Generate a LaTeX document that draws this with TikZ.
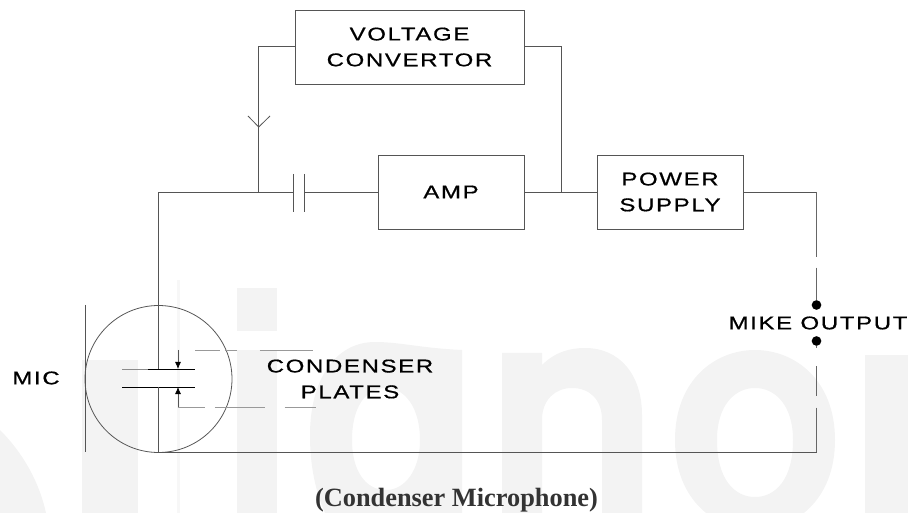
\documentclass[tikz,border=0pt]{standalone}
\usepackage{fontspec}
\usepackage{xcolor}
\usetikzlibrary{positioning,backgrounds,arrows.meta}
\newfontfamily\boxfont[FakeStretch=1.3,LetterSpace=9,FakeBold=0.7]{Liberation Sans}
\setmainfont{Liberation Serif}
\definecolor{markgray}{HTML}{F3F3F3}
\definecolor{wiregray}{HTML}{555555}
\definecolor{capgray}{HTML}{333333}
\tikzset{
  blockbox/.style={draw=wiregray, line width=0.45pt, inner sep=0pt, align=center, font=\boxfont\fontsize{10.5}{14.7}\selectfont},
  wire/.style={draw=wiregray, line width=0.45pt},
  dimline/.style={draw=black!40, line width=0.4pt},
  brokenwire/.style={draw=black!60, line width=0.45pt},
  boxtext/.style={align=center, inner sep=0pt, font=\boxfont\fontsize{10.5}{14.7}\selectfont},
  termdot/.style={circle, fill=black, inner sep=0pt, minimum size=5.5pt},
  gaparrow/.style={draw=wiregray, line width=0.45pt, -{Latex[black,length=4pt,width=3.4pt]}},
}
\begin{document}
\begin{tikzpicture}[x=0.02cm,y=-0.02cm]
	\useasboundingbox (0,0) rectangle (917,513);
	% watermark
	\begin{scope}[fill=markgray]
		\clip (0,0) rectangle (917,513);
		\fill (0,430) .. controls (25,455) and (40,485) .. (46,513) -- (0,513) -- cycle;
		\fill (82,360) rectangle (138,513);
		\fill[markgray!70!white] (177,280) rectangle (180,513);
		\fill (237,288) rectangle (277,331);
		\fill (237,350) rectangle (277,513);
		\fill[even odd rule] (462,350) -- (462,513) -- (325,513) .. controls (315,490) and (310,465) .. (310,435) .. controls (310,380) and (335,342) .. (375,342) .. controls (400,342) and (420,348) .. (462,350) -- cycle
			(352,440) .. controls (352,470) and (365,490) .. (386,490) .. controls (405,490) and (420,470) .. (420,440) .. controls (420,408) and (405,388) .. (386,388) .. controls (365,388) and (352,408) .. (352,440) -- cycle;
		\fill (502,513) -- (502,353) -- (542,353) -- (542,365) .. controls (555,352) and (570,348) .. (585,348) .. controls (620,348) and (642,375) .. (642,415) -- (642,513) -- (602,513) -- (602,420) .. controls (602,400) and (590,388) .. (572,388) .. controls (555,388) and (542,400) .. (542,420) -- (542,513) -- cycle;
		\fill[even odd rule] (675,440) .. controls (675,380) and (715,350) .. (755,350) .. controls (795,350) and (835,380) .. (835,440) .. controls (835,500) and (795,530) .. (755,530) .. controls (715,530) and (675,500) .. (675,440) -- cycle
			(717,440) .. controls (717,480) and (735,497) .. (755,497) .. controls (775,497) and (793,480) .. (793,440) .. controls (793,405) and (775,388) .. (755,388) .. controls (735,388) and (717,405) .. (717,440) -- cycle;
		\fill (865,355) rectangle (908,513);
	\end{scope}

	% blocks
	\node[blockbox, minimum width=4.58cm, minimum height=1.48cm] (conv) at (409.5,47) {VOLTAGE\\CONVERTOR};
	\node[blockbox, minimum width=2.92cm, minimum height=1.48cm] (amp) at (451,192) {AMP};
	\node[blockbox, minimum width=2.92cm, minimum height=1.48cm] (supply) at (670,192) {POWER\\SUPPLY};

	% labels
	\node[boxtext] (mic) at (36,378) {MIC};
	\node[boxtext] (plates) at (350,379) {CONDENSER\\PLATES};
	\node[boxtext] (output) at (818,323) {MIKE OUTPUT};
	\node[inner sep=0pt, text=capgray, font=\bfseries\fontsize{15}{17}\selectfont] (caption) at (456.5,500) {(Condenser Microphone)};

	% mic capsule
	\node[draw=wiregray, line width=0.45pt, circle, inner sep=0pt, minimum size=2.94cm] (capsule) at (158.5,379) {};
	\coordinate (micbar top) at (85,305);
	\coordinate (micbar bot) at (85,452);
	\draw[wire] (micbar top) -- (micbar bot);

	\coordinate (plate a) at (158,369);
	\coordinate (plate b) at (158,387);
	\coordinate (plate al) at (122,369);
	\coordinate (plate ar) at (195,369);
	\coordinate (plate bl) at (122,387);
	\coordinate (plate br) at (195,387);
	\draw[black!45, line width=0.5pt] (plate al) -- (148,369);
	\draw[black, line width=0.45pt] (148,369) -- (plate ar);
	\draw[black, line width=0.5pt] (plate bl) -- (plate br);

	% main line
	\coordinate (corner) at (158,192);
	\coordinate (tee in) at (258.7,192);
	\coordinate (cap a) at (293,192);
	\coordinate (cap b) at (304,192);
	\coordinate (tee out) at (561,192);
	\coordinate (base) at (158,452);
	\coordinate (base r) at (816.5,452);
	\draw[wire] (plate a) -- (corner) -- (cap a);
	\draw[wire] (plate b) -- (base) -- (base r);
	\draw[wire] (cap b) -- (amp.west);
	\draw[wire] (amp.east) -- (supply.west);
	\draw[wire] (cap a |- 0,174) -- (cap a |- 0,212);
	\draw[wire] (cap b |- 0,174) -- (cap b |- 0,212);

	% feedback
	\coordinate (conv l) at (258.7,46);
	\coordinate (conv r) at (561,46);
	\coordinate (ant tip) at (258.7,127);
	\draw[wire] (tee in) -- (conv l) -- (conv.west |- conv l);
	\draw[wire] (tee out) -- (conv r) -- (conv.east |- conv r);
	\draw[wire] (248,116) -- (ant tip) -- (270,116);

	% output
	\node[termdot] (out a) at (816.5,305) {};
	\node[termdot] (out b) at (816.5,341) {};
	\coordinate (out c) at (816.5,192);
	\draw[wire] (supply.east) -- (out c);
	\draw[brokenwire, dash pattern=on 36.9pt off 6.2pt on 30pt off 1pt] (out c) -- (out a);
	\draw[brokenwire, dash pattern=on 1pt off 10.2pt on 17pt off 6.8pt on 30pt off 1pt] (out b) -- (base r);

	% gap
	\coordinate (gap a) at (178,350);
	\coordinate (gap b) at (178,407);
	\coordinate (gap a end) at (313,350);
	\coordinate (gap b end) at (316,407);
	\draw[gaparrow] (gap a) -- (gap a |- plate a);
	\draw[gaparrow] (gap b) -- (gap b |- plate b);
	\draw[dimline, dash pattern=on 14.2pt off 2.8pt on 6.8pt off 13pt on 40pt off 1pt] (195,350) -- (gap a end);
	\draw[dimline, dash pattern=on 15.3pt off 5.7pt on 28.4pt off 11.3pt on 30pt off 1pt] (gap b) -- (gap b end);
\end{tikzpicture}
\end{document}
